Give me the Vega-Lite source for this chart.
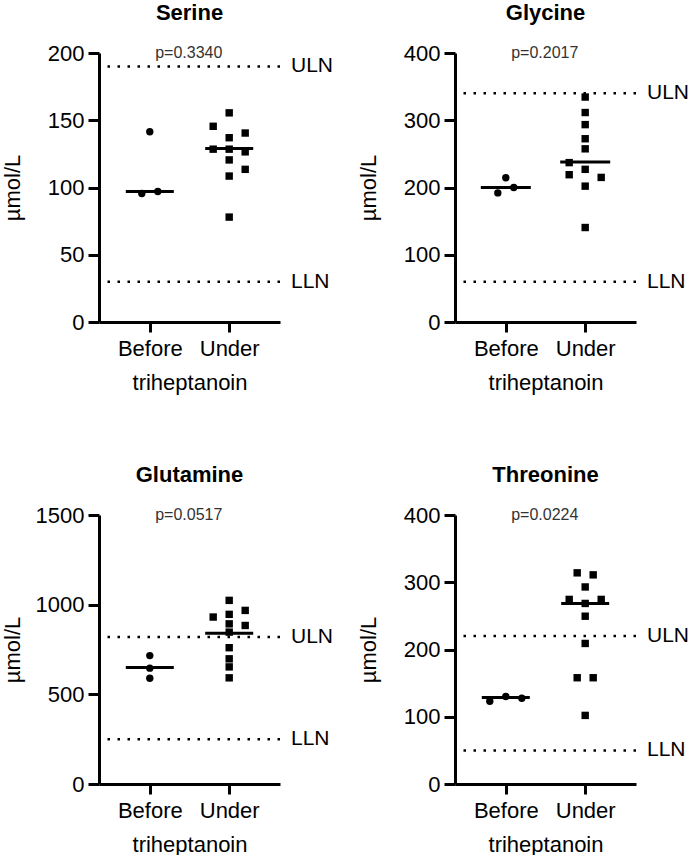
{
  "$schema": "https://vega.github.io/schema/vega-lite/v6.json",
  "background": "white",
  "padding": {"left": 1, "top": 2, "right": 0, "bottom": 0},
  "config": {
    "font": "Liberation Sans",
    "view": {"stroke": null},
    "axis": {
      "domainColor": "black", "domainWidth": 3, "tickColor": "black", "tickWidth": 3,
      "labelColor": "black", "labelFontSize": 22, "titleFontSize": 22, "titleFontWeight": "normal",
      "titleColor": "black", "grid": false, "labelFont": "Liberation Sans", "titleFont": "Liberation Sans"
    },
    "axisY": {"tickSize": 11, "labelPadding": 4, "titleX": -75, "format": "d"},
    "axisX": {"tickSize": 10, "labelPadding": 6, "titlePadding": 13, "labelAngle": 0},
    "title": {"fontSize": 22, "fontWeight": "bold", "color": "black", "frame": "group", "anchor": "middle", "offset": 17, "font": "Liberation Sans"}
  },
  "datasets": {
    "values": [
      {"aa": "Serine", "group": "Before", "slot": 0, "value": 141.5},
      {"aa": "Serine", "group": "Before", "slot": -0.5, "value": 95.5},
      {"aa": "Serine", "group": "Before", "slot": 0.5, "value": 97},
      {"aa": "Serine", "group": "Under", "slot": 0, "value": 155.5},
      {"aa": "Serine", "group": "Under", "slot": -1, "value": 145.5},
      {"aa": "Serine", "group": "Under", "slot": 0, "value": 137},
      {"aa": "Serine", "group": "Under", "slot": 1, "value": 140.5},
      {"aa": "Serine", "group": "Under", "slot": -1, "value": 128.5},
      {"aa": "Serine", "group": "Under", "slot": 0, "value": 128.5},
      {"aa": "Serine", "group": "Under", "slot": 1, "value": 126.5},
      {"aa": "Serine", "group": "Under", "slot": 0, "value": 120.5},
      {"aa": "Serine", "group": "Under", "slot": 1, "value": 113.5},
      {"aa": "Serine", "group": "Under", "slot": 0, "value": 108.5},
      {"aa": "Serine", "group": "Under", "slot": 0, "value": 78},
      {"aa": "Glycine", "group": "Before", "slot": -0.5, "value": 192},
      {"aa": "Glycine", "group": "Before", "slot": 0, "value": 214.5},
      {"aa": "Glycine", "group": "Before", "slot": 0.5, "value": 200},
      {"aa": "Glycine", "group": "Under", "slot": 0, "value": 334.5},
      {"aa": "Glycine", "group": "Under", "slot": 0, "value": 311.5},
      {"aa": "Glycine", "group": "Under", "slot": 0, "value": 293.5},
      {"aa": "Glycine", "group": "Under", "slot": 0, "value": 272.5},
      {"aa": "Glycine", "group": "Under", "slot": 0, "value": 257.5},
      {"aa": "Glycine", "group": "Under", "slot": -1, "value": 237},
      {"aa": "Glycine", "group": "Under", "slot": 0, "value": 227},
      {"aa": "Glycine", "group": "Under", "slot": -1, "value": 219},
      {"aa": "Glycine", "group": "Under", "slot": 1, "value": 215},
      {"aa": "Glycine", "group": "Under", "slot": 0, "value": 202},
      {"aa": "Glycine", "group": "Under", "slot": 0, "value": 140.5},
      {"aa": "Glutamine", "group": "Before", "slot": 0, "value": 716},
      {"aa": "Glutamine", "group": "Before", "slot": 0, "value": 646},
      {"aa": "Glutamine", "group": "Before", "slot": 0, "value": 590},
      {"aa": "Glutamine", "group": "Under", "slot": 0, "value": 1024},
      {"aa": "Glutamine", "group": "Under", "slot": 1, "value": 968},
      {"aa": "Glutamine", "group": "Under", "slot": 0, "value": 946},
      {"aa": "Glutamine", "group": "Under", "slot": -1, "value": 931},
      {"aa": "Glutamine", "group": "Under", "slot": 0, "value": 893},
      {"aa": "Glutamine", "group": "Under", "slot": 1, "value": 884},
      {"aa": "Glutamine", "group": "Under", "slot": 0, "value": 847},
      {"aa": "Glutamine", "group": "Under", "slot": 0, "value": 760},
      {"aa": "Glutamine", "group": "Under", "slot": 0, "value": 698},
      {"aa": "Glutamine", "group": "Under", "slot": 0, "value": 653},
      {"aa": "Glutamine", "group": "Under", "slot": 0, "value": 592},
      {"aa": "Threonine", "group": "Before", "slot": -1, "value": 123},
      {"aa": "Threonine", "group": "Before", "slot": 0, "value": 130},
      {"aa": "Threonine", "group": "Before", "slot": 1, "value": 127.5},
      {"aa": "Threonine", "group": "Under", "slot": -0.5, "value": 314},
      {"aa": "Threonine", "group": "Under", "slot": 0.5, "value": 311},
      {"aa": "Threonine", "group": "Under", "slot": 0, "value": 293},
      {"aa": "Threonine", "group": "Under", "slot": -1, "value": 274.5},
      {"aa": "Threonine", "group": "Under", "slot": 1, "value": 274.5},
      {"aa": "Threonine", "group": "Under", "slot": 0, "value": 268.5},
      {"aa": "Threonine", "group": "Under", "slot": 0, "value": 249.5},
      {"aa": "Threonine", "group": "Under", "slot": 0, "value": 209},
      {"aa": "Threonine", "group": "Under", "slot": -0.5, "value": 158},
      {"aa": "Threonine", "group": "Under", "slot": 0.5, "value": 158},
      {"aa": "Threonine", "group": "Under", "slot": 0, "value": 102}
    ],
    "medians": [
      {"aa": "Serine", "group": "Before", "value": 97},
      {"aa": "Serine", "group": "Under", "value": 129},
      {"aa": "Glycine", "group": "Before", "value": 200},
      {"aa": "Glycine", "group": "Under", "value": 238},
      {"aa": "Glutamine", "group": "Before", "value": 650},
      {"aa": "Glutamine", "group": "Under", "value": 841},
      {"aa": "Threonine", "group": "Before", "value": 128.5},
      {"aa": "Threonine", "group": "Under", "value": 268.5}
    ],
    "limits": [
      {"aa": "Serine", "label": "ULN", "value": 190},
      {"aa": "Serine", "label": "LLN", "value": 30},
      {"aa": "Glycine", "label": "ULN", "value": 340},
      {"aa": "Glycine", "label": "LLN", "value": 60},
      {"aa": "Glutamine", "label": "ULN", "value": 820},
      {"aa": "Glutamine", "label": "LLN", "value": 250},
      {"aa": "Threonine", "label": "ULN", "value": 220},
      {"aa": "Threonine", "label": "LLN", "value": 50}
    ],
    "pvals": [
      {"aa": "Serine", "p": "p=0.3340"},
      {"aa": "Glycine", "p": "p=0.2017"},
      {"aa": "Glutamine", "p": "p=0.0517"},
      {"aa": "Threonine", "p": "p=0.0224"}
    ]
  },
  "columns": 2,
  "spacing": {"row": 71, "column": 23},
  "concat": [
    {
      "title": {"text": "Serine"},
      "width": 181, "height": 269,
      "layer": [
        {"data": {"name": "limits"}, "transform": [{"filter": "datum.aa === 'Serine'"}],
         "mark": {"type": "rule", "strokeDash": [2.5, 7.5], "strokeWidth": 2.5, "color": "black"},
         "encoding": {"y": {"field": "value", "type": "quantitative", "title": "µmol/L", "scale": {"domain": [0, 200], "nice": false, "zero": true}, "axis": {"values": [0, 50, 100, 150, 200]}}}},
        {"data": {"name": "limits"}, "transform": [{"filter": "datum.aa === 'Serine'"}],
         "mark": {"type": "text", "align": "left", "baseline": "middle", "dx": 11, "fontSize": 21, "color": "black"},
         "encoding": {"x": {"value": "width"}, "y": {"field": "value", "type": "quantitative", "title": "µmol/L"}, "text": {"field": "label"}}},
        {"data": {"name": "values"}, "transform": [{"filter": "datum.aa === 'Serine'"}],
         "mark": {"type": "point", "filled": true, "size": 55, "opacity": 1, "color": "black"},
         "encoding": {
           "x": {"field": "group", "type": "nominal", "title": "triheptanoin", "scale": {"type": "point", "domain": ["Before", "Under"], "padding": 0.64}},
           "xOffset": {"field": "slot", "type": "quantitative", "scale": {"domain": [-1, 1], "range": [-16, 16]}},
           "y": {"field": "value", "type": "quantitative", "title": "µmol/L"},
           "shape": {"field": "group", "type": "nominal", "scale": {"domain": ["Before", "Under"], "range": ["circle", "square"]}, "legend": null}}},
        {"data": {"name": "medians"}, "transform": [{"filter": "datum.aa === 'Serine'"}],
         "mark": {"type": "tick", "size": 48, "thickness": 3, "color": "black", "opacity": 1},
         "encoding": {"x": {"field": "group", "type": "nominal", "title": "triheptanoin"}, "y": {"field": "value", "type": "quantitative", "title": "µmol/L"}}},
        {"data": {"name": "pvals"}, "transform": [{"filter": "datum.aa === 'Serine'"}],
         "mark": {"type": "text", "fontSize": 16, "color": "#333333", "baseline": "middle", "align": "center", "dx": 39},
         "encoding": {"x": {"datum": "Before", "type": "nominal"}, "y": {"datum": 200, "type": "quantitative"}, "text": {"field": "p"}}}
      ]
    },
    {
      "title": {"text": "Glycine"},
      "width": 181, "height": 269,
      "layer": [
        {"data": {"name": "limits"}, "transform": [{"filter": "datum.aa === 'Glycine'"}],
         "mark": {"type": "rule", "strokeDash": [2.5, 7.5], "strokeWidth": 2.5, "color": "black"},
         "encoding": {"y": {"field": "value", "type": "quantitative", "title": "µmol/L", "scale": {"domain": [0, 400], "nice": false, "zero": true}, "axis": {"values": [0, 100, 200, 300, 400]}}}},
        {"data": {"name": "limits"}, "transform": [{"filter": "datum.aa === 'Glycine'"}],
         "mark": {"type": "text", "align": "left", "baseline": "middle", "dx": 11, "fontSize": 21, "color": "black"},
         "encoding": {"x": {"value": "width"}, "y": {"field": "value", "type": "quantitative", "title": "µmol/L"}, "text": {"field": "label"}}},
        {"data": {"name": "values"}, "transform": [{"filter": "datum.aa === 'Glycine'"}],
         "mark": {"type": "point", "filled": true, "size": 55, "opacity": 1, "color": "black"},
         "encoding": {
           "x": {"field": "group", "type": "nominal", "title": "triheptanoin", "scale": {"type": "point", "domain": ["Before", "Under"], "padding": 0.64}},
           "xOffset": {"field": "slot", "type": "quantitative", "scale": {"domain": [-1, 1], "range": [-16.5, 16.5]}},
           "y": {"field": "value", "type": "quantitative", "title": "µmol/L"},
           "shape": {"field": "group", "type": "nominal", "scale": {"domain": ["Before", "Under"], "range": ["circle", "square"]}, "legend": null}}},
        {"data": {"name": "medians"}, "transform": [{"filter": "datum.aa === 'Glycine'"}],
         "mark": {"type": "tick", "size": 50, "thickness": 3, "color": "black", "opacity": 1},
         "encoding": {"x": {"field": "group", "type": "nominal", "title": "triheptanoin"}, "y": {"field": "value", "type": "quantitative", "title": "µmol/L"}}},
        {"data": {"name": "pvals"}, "transform": [{"filter": "datum.aa === 'Glycine'"}],
         "mark": {"type": "text", "fontSize": 16, "color": "#333333", "baseline": "middle", "align": "center", "dx": 39},
         "encoding": {"x": {"datum": "Before", "type": "nominal"}, "y": {"datum": 400, "type": "quantitative"}, "text": {"field": "p"}}}
      ]
    },
    {
      "title": {"text": "Glutamine"},
      "width": 181, "height": 269,
      "layer": [
        {"data": {"name": "limits"}, "transform": [{"filter": "datum.aa === 'Glutamine'"}],
         "mark": {"type": "rule", "strokeDash": [2.5, 7.5], "strokeWidth": 2.5, "color": "black"},
         "encoding": {"y": {"field": "value", "type": "quantitative", "title": "µmol/L", "scale": {"domain": [0, 1500], "nice": false, "zero": true}, "axis": {"values": [0, 500, 1000, 1500]}}}},
        {"data": {"name": "limits"}, "transform": [{"filter": "datum.aa === 'Glutamine'"}],
         "mark": {"type": "text", "align": "left", "baseline": "middle", "dx": 11, "fontSize": 21, "color": "black"},
         "encoding": {"x": {"value": "width"}, "y": {"field": "value", "type": "quantitative", "title": "µmol/L"}, "text": {"field": "label"}}},
        {"data": {"name": "values"}, "transform": [{"filter": "datum.aa === 'Glutamine'"}],
         "mark": {"type": "point", "filled": true, "size": 55, "opacity": 1, "color": "black"},
         "encoding": {
           "x": {"field": "group", "type": "nominal", "title": "triheptanoin", "scale": {"type": "point", "domain": ["Before", "Under"], "padding": 0.64}},
           "xOffset": {"field": "slot", "type": "quantitative", "scale": {"domain": [-1, 1], "range": [-16, 16]}},
           "y": {"field": "value", "type": "quantitative", "title": "µmol/L"},
           "shape": {"field": "group", "type": "nominal", "scale": {"domain": ["Before", "Under"], "range": ["circle", "square"]}, "legend": null}}},
        {"data": {"name": "medians"}, "transform": [{"filter": "datum.aa === 'Glutamine'"}],
         "mark": {"type": "tick", "size": 48, "thickness": 3, "color": "black", "opacity": 1},
         "encoding": {"x": {"field": "group", "type": "nominal", "title": "triheptanoin"}, "y": {"field": "value", "type": "quantitative", "title": "µmol/L"}}},
        {"data": {"name": "pvals"}, "transform": [{"filter": "datum.aa === 'Glutamine'"}],
         "mark": {"type": "text", "fontSize": 16, "color": "#333333", "baseline": "middle", "align": "center", "dx": 39},
         "encoding": {"x": {"datum": "Before", "type": "nominal"}, "y": {"datum": 1500, "type": "quantitative"}, "text": {"field": "p"}}}
      ]
    },
    {
      "title": {"text": "Threonine"},
      "width": 181, "height": 269,
      "layer": [
        {"data": {"name": "limits"}, "transform": [{"filter": "datum.aa === 'Threonine'"}],
         "mark": {"type": "rule", "strokeDash": [2.5, 7.5], "strokeWidth": 2.5, "color": "black"},
         "encoding": {"y": {"field": "value", "type": "quantitative", "title": "µmol/L", "scale": {"domain": [0, 400], "nice": false, "zero": true}, "axis": {"values": [0, 100, 200, 300, 400]}}}},
        {"data": {"name": "limits"}, "transform": [{"filter": "datum.aa === 'Threonine'"}],
         "mark": {"type": "text", "align": "left", "baseline": "middle", "dx": 11, "fontSize": 21, "color": "black"},
         "encoding": {"x": {"value": "width"}, "y": {"field": "value", "type": "quantitative", "title": "µmol/L"}, "text": {"field": "label"}}},
        {"data": {"name": "values"}, "transform": [{"filter": "datum.aa === 'Threonine'"}],
         "mark": {"type": "point", "filled": true, "size": 55, "opacity": 1, "color": "black"},
         "encoding": {
           "x": {"field": "group", "type": "nominal", "title": "triheptanoin", "scale": {"type": "point", "domain": ["Before", "Under"], "padding": 0.64}},
           "xOffset": {"field": "slot", "type": "quantitative", "scale": {"domain": [-1, 1], "range": [-16.5, 16.5]}},
           "y": {"field": "value", "type": "quantitative", "title": "µmol/L"},
           "shape": {"field": "group", "type": "nominal", "scale": {"domain": ["Before", "Under"], "range": ["circle", "square"]}, "legend": null}}},
        {"data": {"name": "medians"}, "transform": [{"filter": "datum.aa === 'Threonine'"}],
         "mark": {"type": "tick", "size": 48, "thickness": 3, "color": "black", "opacity": 1},
         "encoding": {"x": {"field": "group", "type": "nominal", "title": "triheptanoin"}, "y": {"field": "value", "type": "quantitative", "title": "µmol/L"}}},
        {"data": {"name": "pvals"}, "transform": [{"filter": "datum.aa === 'Threonine'"}],
         "mark": {"type": "text", "fontSize": 16, "color": "#333333", "baseline": "middle", "align": "center", "dx": 39},
         "encoding": {"x": {"datum": "Before", "type": "nominal"}, "y": {"datum": 400, "type": "quantitative"}, "text": {"field": "p"}}}
      ]
    }
  ]
}
